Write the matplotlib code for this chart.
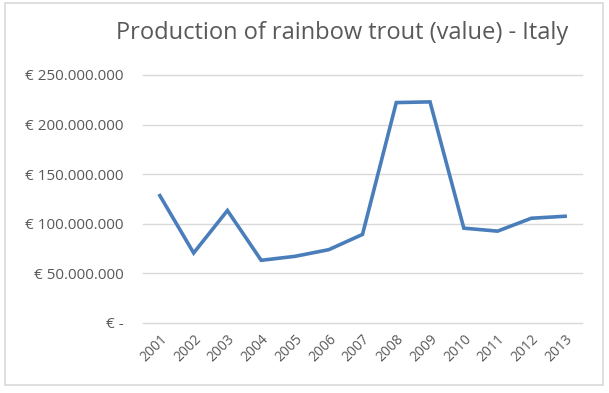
import matplotlib

matplotlib.use("Agg")
import matplotlib.pyplot as plt
from matplotlib.patches import Rectangle

years = ["2001", "2002", "2003", "2004", "2005", "2006", "2007",
         "2008", "2009", "2010", "2011", "2012", "2013"]
values_eur = [128.4e6, 70.6e6, 113.4e6, 63.2e6, 67.2e6, 73.9e6, 89.3e6,
              222.2e6, 222.9e6, 95.6e6, 92.6e6, 105.6e6, 107.6e6]
ticks = [0, 50e6, 100e6, 150e6, 200e6, 250e6]
tick_labels = ["€ -", "€ 50.000.000", "€ 100.000.000", "€ 150.000.000",
               "€ 200.000.000", "€ 250.000.000"]

plt.rcParams["font.family"] = ["Open Sans", "DejaVu Sans"]

W, H = 609, 393
fig = plt.figure(figsize=(W / 100, H / 100), dpi=100)
fig.patches.append(Rectangle((5 / W, 1 - 385 / H), 598 / W, 382 / H,
                             transform=fig.transFigure, fill=False,
                             edgecolor="#d9d9d9", linewidth=1.2))

ax = fig.add_axes([143 / W, 1 - 323 / H, 439 / W, 248 / H])
x = list(range(len(years)))
ax.plot(x, values_eur, color="#4a7ebb", linewidth=2.6, solid_joinstyle="miter")

ax.set_xlim(-0.5, len(years) - 0.5)
ax.set_ylim(0, 250e6)
ax.set_yticks(ticks)
ax.set_yticklabels(tick_labels, fontsize=11)
ax.set_xticks(x)
ax.set_xticklabels(years, rotation=45, ha="right", rotation_mode="anchor",
                   fontsize=10)
ax.grid(axis="y", color="#d9d9d9", linewidth=1)
for gl in ax.get_ygridlines():
    gl.set_clip_on(False)
ax.set_axisbelow(True)
for s in ax.spines.values():
    s.set_visible(False)
ax.tick_params(length=0, colors="#595959")
ax.tick_params(axis="y", pad=14)
ax.tick_params(axis="x", pad=6)

fig.text(342 / W, 1 - 33 / H, "Production of rainbow trout (value) - Italy",
         ha="center", va="center", fontsize=17, color="#595959")

fig.savefig("out.png", dpi=100)
